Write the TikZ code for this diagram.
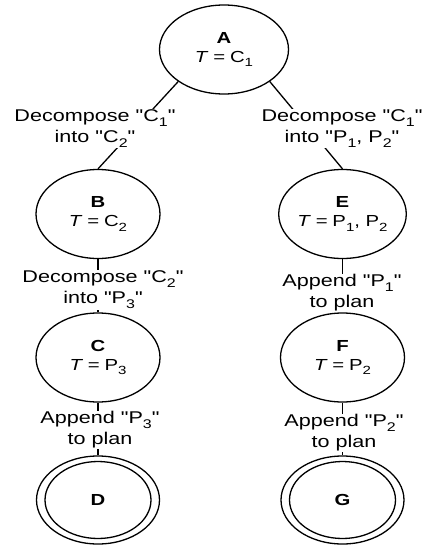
\documentclass[tikz,border=0pt]{standalone}
\usepackage{fontspec}
\setmainfont{Liberation Sans}[FakeStretch=1.27, Ligatures=TeXOff]
\usetikzlibrary{shapes.geometric}
\newcommand{\eqs}{\hspace{0.3em}=\hspace{0.3em}}
\newcommand{\lsub}[1]{\raisebox{-0.28em}{\scalebox{0.74}{#1}}}
\begin{document}
\begin{tikzpicture}[x=1pt,y=-1pt,
  st/.style={ellipse, draw, line width=1.3pt, inner sep=0pt, align=center,
             minimum width=124pt, minimum height=89pt,
             font=\fontsize{16}{19}\selectfont},
  lab/.style={fill=white, inner sep=1pt, align=center,
              font=\fontsize{17}{21}\selectfont},
  conn/.style={line width=1.3pt}]
\useasboundingbox (0,0) rectangle (425,546);
% states
\node[st, minimum width=129pt] (A) at (224,49.5) {\textbf{A}\\\textit{T}\eqs C\lsub{1}};
\node[st] (B) at (98,214) {\textbf{B}\\\textit{T}\eqs C\lsub{2}};
\node[st] (C) at (98,357.5) {\textbf{C}\\\textit{T}\eqs P\lsub{3}};
\node[st, minimum width=123pt, minimum height=88pt] (D) at (98,500) {\textbf{D}};
\node[st, minimum width=106pt, minimum height=77pt] (Din) at (D.center) {};
\node[st] (E) at (342.5,214) {\textbf{E}\\\textit{T}\eqs P\lsub{1}, P\lsub{2}};
\node[st] (F) at (342.5,357.5) {\textbf{F}\\\textit{T}\eqs P\lsub{2}};
\node[st, minimum width=123pt, minimum height=88pt] (G) at (342.5,500) {\textbf{G}};
\node[st, minimum width=106pt, minimum height=77pt] (Gin) at (G.center) {};
% connectors
\draw[conn] (A.215) -- (B.north);
\draw[conn] (A.325) -- (E.north);
\draw[conn] (B.south) -- (C.north);
\draw[conn] (C.south) -- (D.north);
\draw[conn] (E.south) -- (F.north);
\draw[conn] (F.south) -- (G.north);
% labels
\node[lab] (lAB) at (95,128.5) {Decompose "C\lsub{1}"\\into "C\lsub{2}"};
\node[lab] (lAE) at (342,128.5) {Decompose "C\lsub{1}"\\into "P\lsub{1}, P\lsub{2}"};
\node[lab] (lBC) at (103,290) {Decompose "C\lsub{2}"\\into "P\lsub{3}"};
\node[lab] (lEF) at (342,293) {Append "P\lsub{1}"\\to plan};
\node[lab] (lCD) at (100,430) {Append "P\lsub{3}"\\to plan};
\node[lab] (lFG) at (344,433) {Append "P\lsub{2}"\\to plan};
\end{tikzpicture}
\end{document}
